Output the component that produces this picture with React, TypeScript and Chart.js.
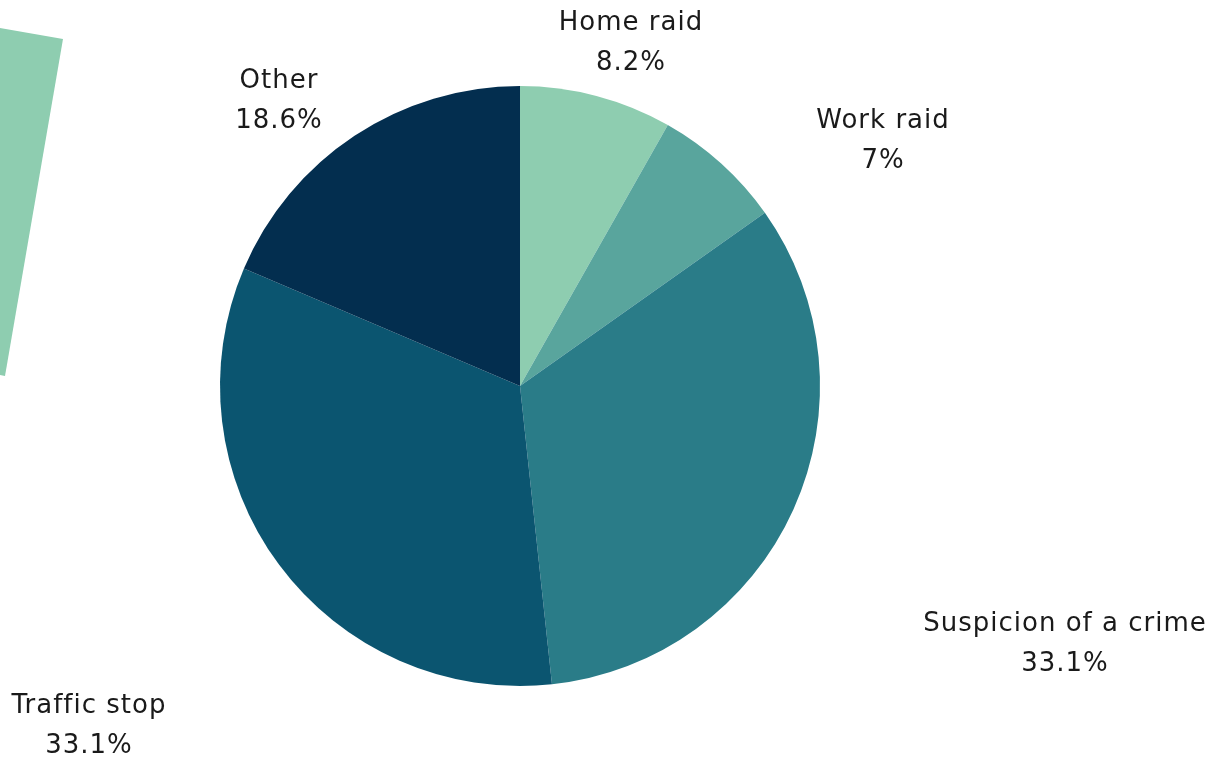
import React, { useEffect, useRef } from "react";
import { Chart, registerables } from "chart.js";

Chart.register(...registerables);

const categories = ["Home raid", "Work raid", "Suspicion of a crime", "Traffic stop", "Other"];
const shares = [8.2, 7, 33.1, 33.1, 18.6];
const shareLabels = ["8.2%", "7%", "33.1%", "33.1%", "18.6%"];
const sliceColors = ["#8ECDB0", "#59A59D", "#2A7C88", "#0B5570", "#032E4F"];

// label block centres, as offsets from the pie centre (layout only)
const labelOffsetX = [111, 363, 545, -431, -241];
const labelOffsetY = [-344, -246, 257, 339, -286];

const FONT = "26px 'DejaVu Sans'";

const labelPlugin = {
  id: "outerLabels",
  afterDraw(chart: any) {
    const ctx = chart.ctx;
    const meta = chart.getDatasetMeta(0);
    ctx.save();
    ctx.font = FONT;
    ctx.fillStyle = "#1a1a1a";
    ctx.textAlign = "center";
    ctx.textBaseline = "middle";
    try {
      (ctx as any).letterSpacing = "1px";
    } catch (e) {}
    meta.data.forEach((arc: any, i: number) => {
      const cx = arc.x + labelOffsetX[i];
      const cy = arc.y + labelOffsetY[i];
      ctx.fillText(categories[i], cx, cy - 19);
      ctx.fillText(shareLabels[i], cx, cy + 21);
    });
    ctx.restore();
  },
};

export default function App() {
  const ref = useRef<HTMLCanvasElement | null>(null);
  useEffect(() => {
    document.body.style.margin = "0";
    const chart = new Chart(ref.current as HTMLCanvasElement, {
      type: "pie",
      data: {
        labels: categories,
        datasets: [
          {
            data: shares,
            backgroundColor: sliceColors,
            borderWidth: 0,
          },
        ],
      },
      options: {
        animation: false,
        responsive: false,
        maintainAspectRatio: false,
        layout: { padding: { left: 220, right: 400, top: 86, bottom: 72 } },
        plugins: { legend: { display: false }, tooltip: { enabled: false } },
      },
      plugins: [labelPlugin],
    });
    return () => chart.destroy();
  }, []);
  return (
    <div style={{ position: "relative", width: 1220, height: 758, background: "#ffffff", overflow: "hidden" }}>
      <div
        style={{
          position: "absolute",
          left: 0,
          top: 0,
          width: 70,
          height: 380,
          background: "#8ECDB0",
          clipPath: "polygon(0px 28px, 63px 39px, 5px 376px, 0px 375px)",
        }}
      />
      <canvas ref={ref} width={1220} height={758} style={{ position: "absolute", left: 0, top: 0 }} />
    </div>
  );
}
